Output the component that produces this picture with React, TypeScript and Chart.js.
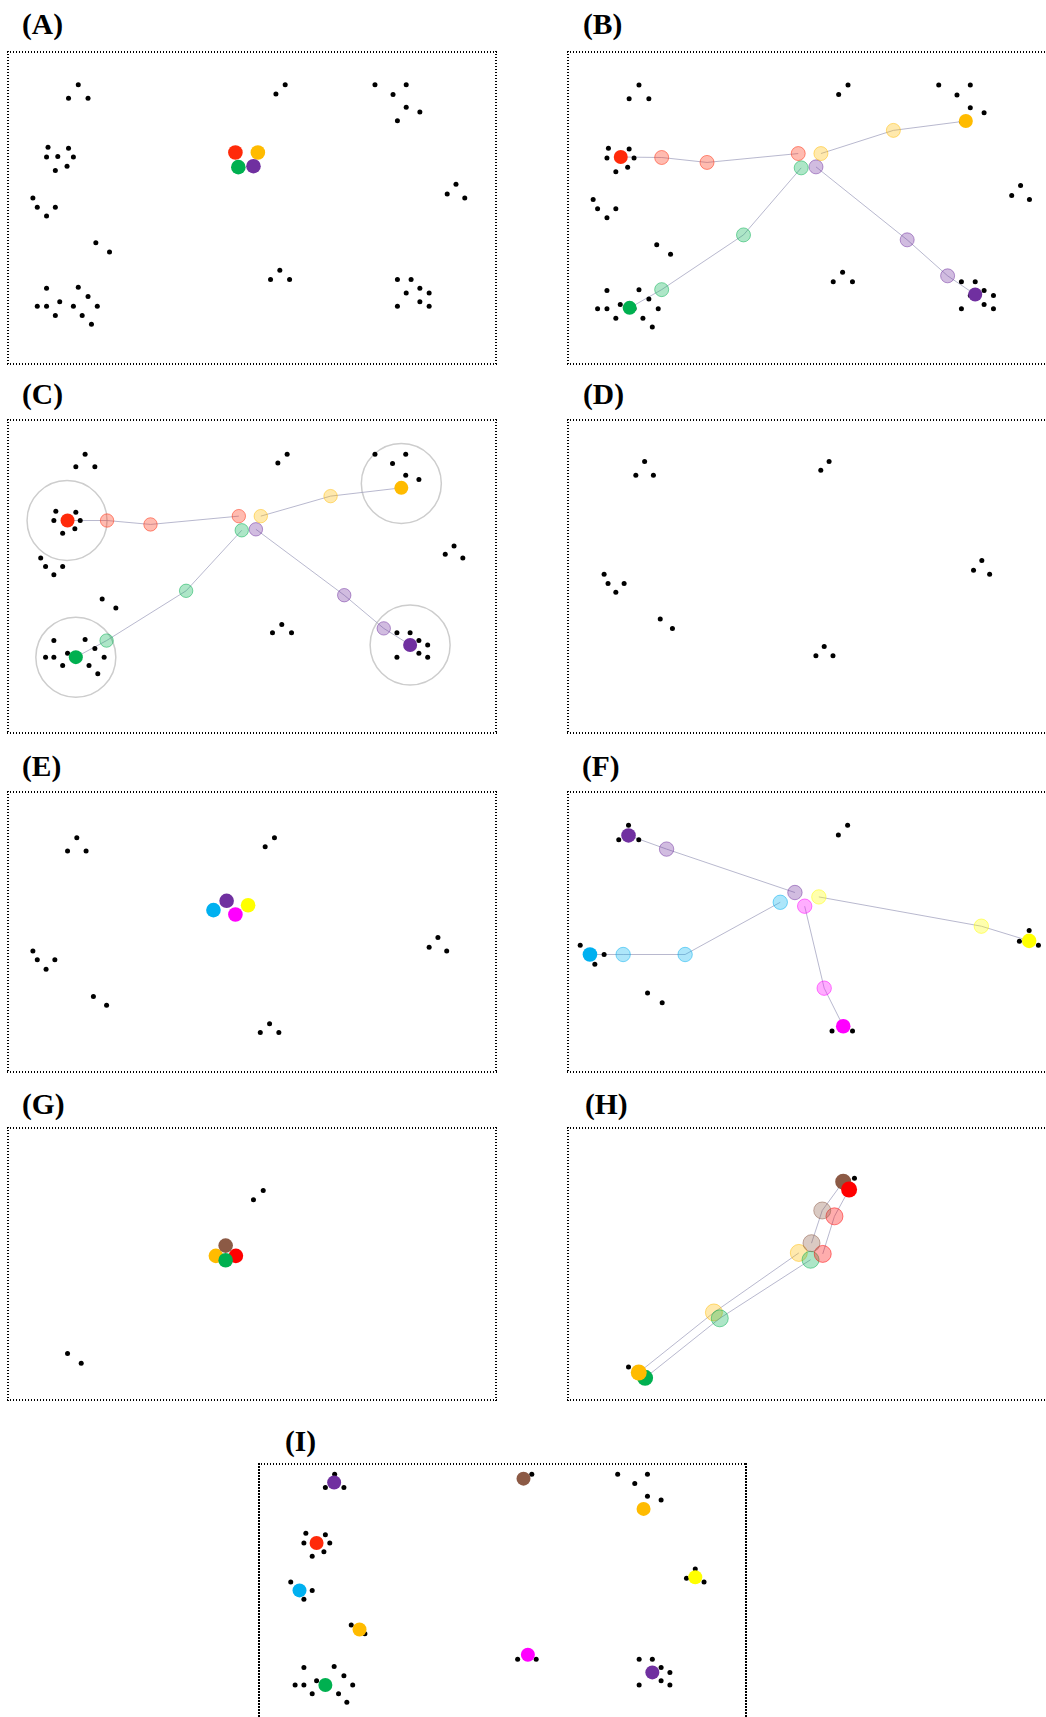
import { useEffect, useRef } from 'react';
import { Chart, registerables } from 'chart.js';

Chart.register(...registerables);

type Pt = [number, number];

// Palette
const RED = '#ff2a0a';
const RED_PURE = '#ff0000';
const ORANGE = '#ffbb00';
const GREEN = '#00b050';
const PURPLE = '#7030a0';
const CYAN = '#00b0f0';
const MAGENTA = '#ff00ff';
const YELLOW = '#ffff00';
const BROWN = '#8c5a45';
const LINK = 'rgba(160,160,190,0.75)';

// ---- (A) / (B): sample points ----
const dotsA: Pt[] = [
  [14.4, 6.7], [12.4, 9.5], [16.4, 9.5],
  [56.8, 6.7], [54.9, 8.6],
  [75.2, 6.7], [81.6, 6.7], [78.9, 8.7], [81.6, 11.3], [84.4, 12.3], [79.8, 14.1],
  [8.2, 19.5], [12.4, 19.7], [7.9, 21.5], [10.2, 21.4], [13.4, 21.5], [12.1, 23.4], [9.7, 24.3],
  [5.1, 29.9], [6.0, 31.8], [9.7, 31.8], [7.9, 33.6],
  [18.0, 39.1], [20.8, 41.0],
  [91.8, 27.1], [90.0, 29.1], [93.6, 29.9],
  [55.7, 44.7], [53.8, 46.6], [57.7, 46.6],
  [7.9, 48.4], [14.4, 48.2], [16.4, 50.1], [10.6, 51.2], [6.0, 52.1], [7.9, 52.1], [13.4, 52.1],
  [18.3, 52.1], [9.7, 54.0], [15.2, 54.0], [17.1, 55.8],
  [79.8, 46.6], [82.6, 46.6], [84.4, 48.4], [81.6, 49.4], [86.3, 49.4], [84.4, 51.2], [79.8, 52.1], [86.3, 52.1],
];

// (A) initial centroids
const aRed: Pt = [46.6, 20.6];
const aOrange: Pt = [51.2, 20.6];
const aGreen: Pt = [47.2, 23.6];
const aPurple: Pt = [50.3, 23.4];

// (B) centroid tracks: final position first, then back to the start
const bRed: Pt[] = [[10.7, 21.3], [19.0, 21.4], [28.2, 22.4], [46.7, 20.6]];
const bOrange: Pt[] = [[80.7, 14.0], [66.0, 15.9], [51.3, 20.6]];
const bGreen: Pt[] = [[12.5, 51.9], [19.0, 48.2], [35.6, 37.1], [47.3, 23.5]];
const bPurple: Pt[] = [[82.6, 49.2], [77.0, 45.4], [68.8, 38.1], [50.3, 23.3]];

// ---- (C) ----
const dotsC: Pt[] = [
  [15.8, 7.0], [13.9, 9.6], [17.8, 9.6],
  [57.2, 7.0], [55.3, 8.8],
  [75.2, 7.0], [81.5, 7.0], [78.8, 8.9], [81.5, 11.3], [84.2, 12.2],
  [9.8, 18.7], [13.9, 18.9], [9.4, 20.6], [14.8, 20.6], [13.7, 22.3], [11.2, 23.2],
  [6.7, 28.3], [7.7, 30.0], [11.2, 30.0], [9.4, 31.7],
  [19.3, 36.7], [22.1, 38.5],
  [91.4, 25.8], [89.6, 27.5], [93.2, 28.3],
  [56.1, 41.9], [54.2, 43.6], [58.1, 43.6],
  [9.4, 45.2], [15.8, 45.0], [17.8, 46.8], [12.2, 47.8], [7.7, 48.6], [9.4, 48.6], [19.7, 48.6],
  [11.2, 50.3], [16.6, 50.3], [18.4, 52.0],
  [79.7, 43.6], [82.4, 43.6], [84.2, 45.2], [86.0, 46.1], [84.2, 47.8], [79.7, 48.6], [86.0, 48.6],
];
const cRed: Pt[] = [[12.2, 20.6], [20.3, 20.6], [29.2, 21.4], [47.3, 19.7]];
const cOrange: Pt[] = [[80.6, 13.9], [66.1, 15.6], [51.8, 19.7]];
const cGreen: Pt[] = [[13.9, 48.6], [20.2, 45.2], [36.5, 35.0], [47.9, 22.6]];
const cPurple: Pt[] = [[82.4, 46.1], [77.0, 42.7], [68.9, 35.9], [50.8, 22.4]];
const cRings: Pt[] = [[12.1, 20.6], [80.6, 13.0], [13.9, 48.6], [82.4, 46.1]];

// ---- (D) remaining points ----
const dotsD: Pt[] = [
  [15.7, 8.5], [13.9, 11.3], [17.5, 11.3],
  [53.5, 8.5], [51.8, 10.3],
  [7.4, 31.6], [8.2, 33.5], [11.5, 33.5], [9.8, 35.3],
  [18.9, 40.8], [21.4, 42.7],
  [84.8, 28.8], [83.1, 30.8], [86.4, 31.6],
  [52.5, 46.4], [50.8, 48.3], [54.3, 48.3],
];

// ---- (E) ----
const dotsE: Pt[] = [
  [14.1, 9.4], [12.2, 12.1], [16.0, 12.1],
  [54.6, 9.4], [52.7, 11.2],
  [5.1, 32.6], [6.0, 34.4], [9.6, 34.4], [7.8, 36.3],
  [17.5, 41.9], [20.2, 43.7],
  [88.1, 29.8], [86.3, 31.8], [89.9, 32.6],
  [53.6, 47.5], [51.7, 49.3], [55.5, 49.3],
];
const ePurple: Pt = [44.8, 22.3];
const eCyan: Pt = [42.1, 24.2];
const eYellow: Pt = [49.2, 23.2];
const eMagenta: Pt = [46.6, 25.1];

// ---- (F) ----
const dotsF: Pt[] = [
  [12.4, 6.8], [10.4, 9.8], [14.5, 9.8],
  [57.3, 6.8], [55.4, 8.8],
  [2.5, 31.4], [7.4, 33.3], [5.5, 35.3],
  [16.3, 41.2], [19.3, 43.2],
  [94.5, 28.4], [92.5, 30.6], [96.4, 31.4],
  [54.1, 49.0], [58.3, 49.0],
];
const fPurple: Pt[] = [[12.4, 8.9], [20.2, 11.7], [46.5, 20.6]];
const fCyan: Pt[] = [[4.5, 33.3], [11.3, 33.3], [24.0, 33.3], [43.5, 22.6]];
const fYellow: Pt[] = [[94.5, 30.5], [84.7, 27.5], [51.4, 21.5]];
const fMagenta: Pt[] = [[56.4, 48.0], [52.5, 40.2], [48.5, 23.4]];

// ---- (G) ----
const dotsG: Pt[] = [[52.3, 12.8], [50.3, 14.7], [12.2, 46.2], [15.0, 48.2]];
const gOrange: Pt = [42.6, 26.2];
const gRed: Pt = [46.7, 26.2];
const gBrown: Pt = [44.6, 24.1];
const gGreen: Pt = [44.6, 27.1];

// ---- (H) ----
const dotsH: Pt[] = [[58.7, 10.3], [12.4, 49.0]];
const hBrown: Pt[] = [[56.4, 11.0], [52.1, 16.9], [49.9, 23.6]];
const hRed: Pt[] = [[57.6, 12.6], [54.6, 18.1], [52.2, 25.8]];
const hGreen: Pt[] = [[15.8, 51.2], [31.1, 39.0], [49.7, 27.0]];
const hOrange: Pt[] = [[14.5, 50.1], [29.9, 37.8], [47.3, 25.6]];

// ---- (I) final clusters ----
const dotsI: Pt[] = [
  [15.5, 2.1], [13.6, 4.8], [17.4, 4.8],
  [55.9, 2.1],
  [73.5, 2.1], [79.6, 2.1], [77.0, 4.0], [79.6, 6.6], [82.4, 7.4],
  [9.6, 14.2], [13.6, 14.5], [9.2, 16.2], [14.5, 16.2], [13.3, 18.0], [10.9, 18.9],
  [6.5, 24.2], [10.9, 25.9], [9.2, 27.7],
  [18.9, 33.0], [21.7, 34.8],
  [89.4, 21.5], [87.6, 23.4], [91.2, 24.2],
  [53.0, 40.0], [56.8, 40.0],
  [9.2, 41.7], [15.4, 41.5], [17.4, 43.4], [11.8, 44.4], [7.4, 45.3], [9.2, 45.3], [19.2, 45.3],
  [10.9, 47.1], [16.3, 47.1], [18.0, 48.8],
  [77.9, 40.0], [80.6, 40.0], [82.4, 41.7], [84.2, 42.7], [82.4, 44.4], [77.9, 45.3], [84.2, 45.3],
];
const iPurpleTop: Pt = [15.4, 3.8];
const iBrown: Pt = [54.2, 3.0];
const iOrangeTop: Pt = [78.8, 9.2];
const iRed: Pt = [11.8, 16.2];
const iCyan: Pt = [8.3, 25.9];
const iOrangeMid: Pt = [20.6, 33.9];
const iYellow: Pt = [89.4, 23.2];
const iMagenta: Pt = [55.1, 39.1];
const iGreen: Pt = [13.6, 45.3];
const iPurpleLow: Pt = [80.6, 42.7];

interface Track { color: string; pts: Pt[] }
interface Seed { color: string; pt: Pt }
interface PanelSpec {
  label: string;
  labelX: number;
  labelY: number;
  left: number;
  top: number;
  width: number;
  height: number;
  unit: number;
  dots: Pt[];
  tracks?: Track[];
  seeds?: Seed[];
  rings?: Pt[];
  bigR: number;
  lightR: number;
}

const panels: PanelSpec[] = [
  {
    label: '(A)', labelX: 22, labelY: 10, left: 8, top: 52, width: 488, height: 312, unit: 4.88,
    dots: dotsA, bigR: 7.3, lightR: 7,
    seeds: [
      { color: RED, pt: aRed }, { color: ORANGE, pt: aOrange },
      { color: GREEN, pt: aGreen }, { color: PURPLE, pt: aPurple },
    ],
  },
  {
    label: '(B)', labelX: 583, labelY: 10, left: 568, top: 52, width: 493, height: 312, unit: 4.93,
    dots: dotsA, bigR: 7, lightR: 7,
    tracks: [
      { color: RED, pts: bRed }, { color: ORANGE, pts: bOrange },
      { color: GREEN, pts: bGreen }, { color: PURPLE, pts: bPurple },
    ],
  },
  {
    label: '(C)', labelX: 22, labelY: 380, left: 8, top: 420, width: 488, height: 313, unit: 4.88,
    dots: dotsC, bigR: 7, lightR: 6.7, rings: cRings,
    tracks: [
      { color: RED, pts: cRed }, { color: ORANGE, pts: cOrange },
      { color: GREEN, pts: cGreen }, { color: PURPLE, pts: cPurple },
    ],
  },
  {
    label: '(D)', labelX: 583, labelY: 380, left: 568, top: 420, width: 488, height: 313, unit: 4.88,
    dots: dotsD, bigR: 7, lightR: 7,
  },
  {
    label: '(E)', labelX: 22, labelY: 752, left: 8, top: 792, width: 488, height: 280, unit: 4.88,
    dots: dotsE, bigR: 7.3, lightR: 7,
    seeds: [
      { color: PURPLE, pt: ePurple }, { color: CYAN, pt: eCyan },
      { color: YELLOW, pt: eYellow }, { color: MAGENTA, pt: eMagenta },
    ],
  },
  {
    label: '(F)', labelX: 582, labelY: 752, left: 568, top: 792, width: 488, height: 280, unit: 4.88,
    dots: dotsF, bigR: 7.3, lightR: 7.2,
    tracks: [
      { color: PURPLE, pts: fPurple }, { color: CYAN, pts: fCyan },
      { color: YELLOW, pts: fYellow }, { color: MAGENTA, pts: fMagenta },
    ],
  },
  {
    label: '(G)', labelX: 22, labelY: 1090, left: 8, top: 1128, width: 488, height: 272, unit: 4.88,
    dots: dotsG, bigR: 7.3, lightR: 7,
    seeds: [
      { color: ORANGE, pt: gOrange }, { color: RED_PURE, pt: gRed },
      { color: BROWN, pt: gBrown }, { color: GREEN, pt: gGreen },
    ],
  },
  {
    label: '(H)', labelX: 585, labelY: 1090, left: 568, top: 1128, width: 488, height: 272, unit: 4.88,
    dots: dotsH, bigR: 8, lightR: 8.5,
    tracks: [
      { color: BROWN, pts: hBrown }, { color: RED_PURE, pts: hRed },
      { color: GREEN, pts: hGreen }, { color: ORANGE, pts: hOrange },
    ],
  },
  {
    label: '(I)', labelX: 285, labelY: 1427, left: 259, top: 1464, width: 487, height: 300, unit: 4.88,
    dots: dotsI, bigR: 7, lightR: 7,
    seeds: [
      { color: PURPLE, pt: iPurpleTop }, { color: BROWN, pt: iBrown },
      { color: ORANGE, pt: iOrangeTop }, { color: RED, pt: iRed },
      { color: CYAN, pt: iCyan }, { color: ORANGE, pt: iOrangeMid },
      { color: YELLOW, pt: iYellow }, { color: MAGENTA, pt: iMagenta },
      { color: GREEN, pt: iGreen }, { color: PURPLE, pt: iPurpleLow },
    ],
  },
];

function rgba(hex: string, a: number): string {
  const n = parseInt(hex.slice(1), 16);
  return `rgba(${n >> 16},${(n >> 8) & 255},${n & 255},${a})`;
}

const toXY = (p: Pt) => ({ x: p[0], y: p[1] });

function buildDatasets(spec: PanelSpec): any[] {
  const sets: any[] = [];
  if (spec.rings) {
    sets.push({
      data: spec.rings.map(toXY),
      pointRadius: 40,
      pointBackgroundColor: 'rgba(0,0,0,0)',
      pointBorderColor: '#cdcdcd',
      pointBorderWidth: 1.5,
      order: 3,
      clip: false,
    });
  }
  const tracks = spec.tracks || [];
  tracks.forEach((t) => {
    sets.push({
      data: t.pts.map(toXY),
      showLine: true,
      borderColor: LINK,
      borderWidth: 1,
      pointRadius: t.pts.map((_, i) => (i === 0 ? 0 : spec.lightR)),
      pointBackgroundColor: rgba(t.color, 0.32),
      pointBorderColor: rgba(t.color, 0.5),
      pointBorderWidth: 1,
      order: 2,
      clip: false,
    });
  });
  sets.push({
    data: spec.dots.map(toXY),
    pointRadius: 2.5,
    pointBackgroundColor: '#000',
    pointBorderWidth: 0,
    order: 1,
    clip: false,
  });
  const seeds = spec.seeds || [];
  const bigPts = [...tracks.map((t) => t.pts[0]), ...seeds.map((s) => s.pt)];
  const bigCols = [...tracks.map((t) => t.color), ...seeds.map((s) => s.color)];
  if (bigPts.length) {
    sets.push({
      data: bigPts.map(toXY),
      pointRadius: spec.bigR,
      pointBackgroundColor: bigCols,
      pointBorderWidth: 0,
      order: 0,
      clip: false,
    });
  }
  return sets;
}

// Dotted frame edges: 1.5px dots on a 3px period, 2px thick
const DOT_H = 'repeating-linear-gradient(to right, #000 0px, #000 1.5px, rgba(0,0,0,0) 1.5px, rgba(0,0,0,0) 3px)';
const DOT_V = 'repeating-linear-gradient(to bottom, #000 0px, #000 1.5px, rgba(0,0,0,0) 1.5px, rgba(0,0,0,0) 3px)';

function Frame({ left, top, width, height }: { left: number; top: number; width: number; height: number }) {
  const edge = (l: number, t: number, w: number, h: number, bg: string) => (
    <div style={{ position: 'absolute', left: l, top: t, width: w, height: h, backgroundImage: bg, pointerEvents: 'none' }} />
  );
  return (
    <>
      {edge(left - 1, top - 1, width + 2, 2, DOT_H)}
      {edge(left - 1, top + height - 1, width + 2, 2, DOT_H)}
      {edge(left - 1, top - 1, 2, height + 2, DOT_V)}
      {edge(left + width - 1, top - 1, 2, height + 2, DOT_V)}
    </>
  );
}

function Panel({ spec }: { spec: PanelSpec }) {
  const ref = useRef<HTMLCanvasElement | null>(null);
  useEffect(() => {
    if (!ref.current) return;
    const chart = new Chart(ref.current, {
      type: 'scatter',
      data: { datasets: buildDatasets(spec) },
      options: {
        animation: false,
        responsive: false,
        events: [],
        layout: { padding: 0, autoPadding: false },
        plugins: { legend: { display: false }, tooltip: { enabled: false } },
        scales: {
          x: { type: 'linear', display: false, min: 0, max: spec.width / spec.unit },
          y: { type: 'linear', display: false, min: 0, max: spec.height / spec.unit, reverse: true },
        },
      },
    } as any);
    return () => chart.destroy();
  }, [spec]);

  return (
    <>
      <div
        style={{
          position: 'absolute',
          left: spec.labelX,
          top: spec.labelY,
          fontFamily: '"Liberation Serif", "Times New Roman", serif',
          fontWeight: 'bold',
          fontSize: 29.5,
          lineHeight: '29.5px',
          color: '#000',
          whiteSpace: 'nowrap',
        }}
      >
        {spec.label}
      </div>
      <canvas
        ref={ref}
        width={spec.width}
        height={spec.height}
        style={{ position: 'absolute', left: spec.left, top: spec.top, width: spec.width, height: spec.height }}
      />
      <Frame left={spec.left} top={spec.top} width={spec.width} height={spec.height} />
    </>
  );
}

export default function App() {
  return (
    <div
      style={{
        position: 'absolute',
        left: 0,
        top: 0,
        width: 1046,
        height: 1717,
        overflow: 'hidden',
        background: '#fff',
      }}
    >
      {panels.map((p) => (
        <Panel key={p.label} spec={p} />
      ))}
    </div>
  );
}
